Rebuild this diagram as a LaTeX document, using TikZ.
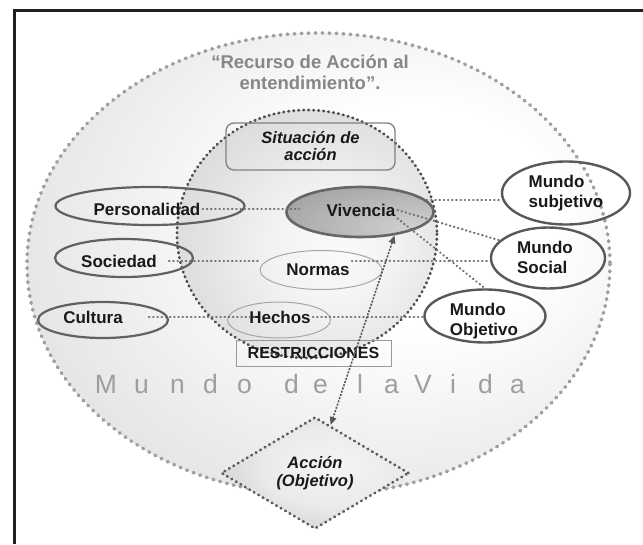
\documentclass[tikz,border=0pt]{standalone}
\usepackage{fontspec}
\setmainfont{Liberation Sans}
\usetikzlibrary{shapes.geometric,arrows.meta}

% soft fills for the two worlds, the lived experience and the action
\pgfdeclareradialshading{worldglow}{\pgfpoint{10bp}{6bp}}{%
  color(0bp)=(white); color(12bp)=(white); color(40bp)=(black!14);
  color(58bp)=(black!28); color(80bp)=(black!33)}
\pgfdeclareradialshading{sphereglow}{\pgfpoint{6bp}{-4bp}}{%
  color(0bp)=(black!2); color(12bp)=(black!5); color(36bp)=(black!17);
  color(52bp)=(black!34); color(75bp)=(black!40)}
\pgfdeclareradialshading{vivglow}{\pgfpoint{22bp}{-18bp}}{%
  color(0bp)=(black!17); color(30bp)=(black!30); color(65bp)=(black!47);
  color(90bp)=(black!52)}
\pgfdeclareradialshading{actglow}{\pgfpoint{6bp}{4bp}}{%
  color(0bp)=(black!4); color(18bp)=(black!8); color(45bp)=(black!27);
  color(70bp)=(black!34)}

\begin{document}
\begin{tikzpicture}[x=1pt,y=-1pt,
  lbl/.style={font=\fontsize{17}{20}\selectfont\bfseries, text=black!90,
    inner sep=2pt, align=left},
  ilbl/.style={font=\fontsize{16.5}{17.5}\selectfont\bfseries\itshape,
    text=black!90, inner sep=2pt, align=center},
  concept/.style={ellipse, draw=black!62, line width=2.2pt, inner sep=0pt},
  lightconcept/.style={ellipse, draw=black!35, line width=1pt, inner sep=0pt},
  worldcap/.style={ellipse, draw=black!65, line width=2.4pt, inner sep=0pt},
  rimdots/.style={draw=black!38, line width=3.6pt, line cap=round,
    dash pattern=on 0.8pt off 6.2pt},
  spheredots/.style={draw=black!70, line width=2.8pt, line cap=round,
    dash pattern=on 0.6pt off 4.4pt},
  link/.style={draw=black!56, line width=2.2pt, line cap=round,
    dash pattern=on 0.5pt off 3.7pt},
  vidaletter/.style={font=\fontsize{26.5}{28}\selectfont, text=black!38,
    inner sep=0pt, anchor=base}
]
\useasboundingbox (0,0) rectangle (643,544);
\fill[white] (0,0) rectangle (643,544);

% frame edges
\draw[line width=3pt, black!88] (14.5,544) -- (14.5,10.5) -- (643,10.5);

% Mundo de la Vida: outer world
\shade[shading=worldglow] (318.5,264) ellipse [x radius=291.5, y radius=231];
\draw[rimdots] (318.5,264) ellipse [x radius=291.5, y radius=231];

% situation sphere
\shade[shading=sphereglow] (307,234) ellipse [x radius=130, y radius=124];
\draw[spheredots] (307,234) ellipse [x radius=130, y radius=124];

% heading
\node[font=\fontsize{18.5}{21}\selectfont\bfseries, text=black!47,
  align=center, inner sep=0pt] (recurso) at (310,72)
  {“Recurso de Acción al\\entendimiento”.};

% situation of action
\node[draw=black!50, line width=1.3pt, rounded corners=8pt,
  minimum width=169, minimum height=47, inner sep=0pt] (sitbox) at (310.5,146.5) {};
\node[ilbl] (sit) at (310.5,146) {Situación de\\acción};

% lived experience
\node[ellipse, shade, shading=vivglow, draw=black!60, line width=2.6pt,
  minimum width=147, minimum height=50, inner sep=0pt] (viv) at (360,212) {};

% resources and components
\node[concept, minimum width=189, minimum height=38] (pers) at (150,206) {};
\node[concept, minimum width=138, minimum height=38] (soc) at (124,258) {};
\node[concept, minimum width=130, minimum height=36] (cult) at (103,320) {};
\node[lightconcept, minimum width=122, minimum height=39] (norm) at (321,270) {};
\node[lightconcept, minimum width=103, minimum height=36] (hech) at (279,320) {};

% the three worlds
\node[worldcap, minimum width=128, minimum height=63] (msub) at (566,193) {};
\node[worldcap, minimum width=114, minimum height=61] (msoc) at (548,258) {};
\node[worldcap, minimum width=121, minimum height=53] (mobj) at (485,316) {};

% labels
\node[lbl] (perst) at (147,209) {Personalidad};
\node[lbl] (vivt) at (361,210) {Vivencia};
\node[lbl] (soct) at (119,261) {Sociedad};
\node[lbl] (normt) at (318,270) {Normas};
\node[lbl] (cultt) at (93,317) {Cultura};
\node[lbl] (hecht) at (280,317) {Hechos};
\node[lbl] (msubt) at (566,193) {Mundo\\subjetivo};
\node[lbl] (msoct) at (545,257) {Mundo\\Social};
\node[lbl] (mobjt) at (484,321) {Mundo\\Objetivo};

% connectors
\draw[link] (perst.east) -- ([xshift=14pt]perst.east -| viv.west);
\draw[link] (viv.10) -- (viv.10 -| msub.west);
\draw[link] (vivt.east) -- (msoc.160);
\draw[link] (vivt.south east) -- (mobj.north);
\draw[link, shorten <=10pt] (soct.east) -- (soct.east -| norm.west);
\draw[link] (normt.east |- soct.east) -- (soct.east -| msoc.west);
\draw[link, shorten <=24pt, shorten >=-10pt] (cultt.east) -- (cultt.east -| hecht.west);
\draw[link] (hecht.east) -- (hecht.east -| mobj.west);

% restrictions
\node[draw=black!40, line width=1pt, minimum width=155, minimum height=26,
  inner sep=0pt, font=\fontsize{16}{18}\selectfont\bfseries, text=black!90]
  (restr) at (313.5,353) {RESTRICCIONES};

% spaced caption of the life world
\foreach \c/\x [count=\i] in {M/106,u/141.5,n/177.5,d/210.5,o/244.5,d/291.5,
    e/320.5,l/360,a/391.5,V/423,i/453,d/485.5,a/517.5}
  \node[vidaletter] (vida\i) at (\x,393) {\c};

% action
\node[diamond, shade, shading=actglow, aspect=1.68,
  minimum width=188, minimum height=112, inner sep=0pt,
  draw=black!64, line width=2.8pt, line cap=round, dash pattern=on 0.6pt off 4.6pt,
  font=\fontsize{16.5}{17.5}\selectfont\bfseries\itshape, text=black!90,
  align=center] (acc) at (315,473) {Acción\\(Objetivo)};

\draw[black!65, line width=1.6pt, dash pattern=on 2pt off 1.4pt,
  {Triangle[length=8pt,width=6.5pt]}-{Triangle[length=8pt,width=6.5pt]}]
  (viv.-34) -- (acc.72);
\end{tikzpicture}
\end{document}
